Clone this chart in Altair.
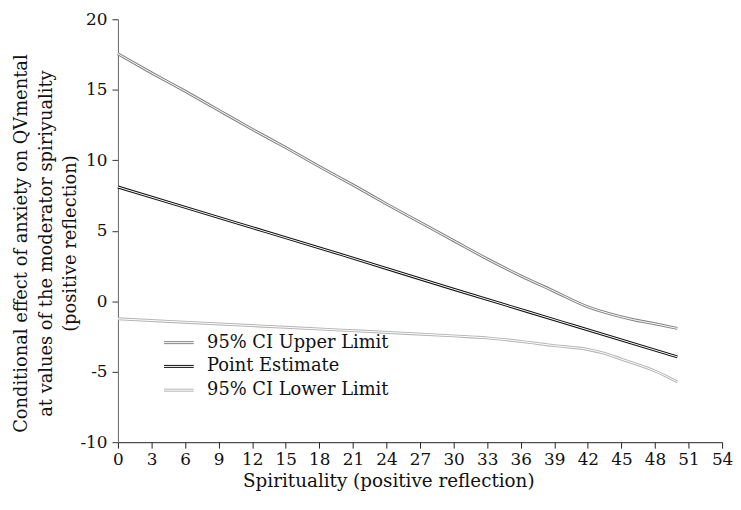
import altair as alt
import pandas as pd

# ---- data ----
series_names = ["95% CI Upper Limit", "Point Estimate", "95% CI Lower Limit"]
series_colors = ["#858585", "#111111", "#b4b4b4"]

x_upper = [0, 3, 6, 9, 12, 15, 18, 21, 24, 27, 30, 33, 36, 39, 42, 44, 46, 48, 50]
y_upper = [17.55, 16.2, 14.9, 13.55, 12.2, 10.9, 9.55, 8.25, 6.9, 5.6, 4.3, 3.0, 1.8,
           0.7, -0.4, -0.9, -1.3, -1.6, -1.93]

x_point = [0, 10, 20, 30, 40, 50]
y_point = [8.1, 5.7, 3.3, 0.85, -1.55, -3.95]

x_lower = [0, 5, 10, 15, 20, 25, 30, 33, 36, 39, 42, 43.5, 45, 48, 50]
y_lower = [-1.25, -1.45, -1.65, -1.85, -2.05, -2.25, -2.46, -2.6, -2.85, -3.15,
           -3.42, -3.7, -4.11, -4.95, -5.72]

x_ticks = list(range(0, 55, 3))
y_ticks = [-10, -5, 0, 5, 10, 15, 20]

x_title = "Spirituality (positive reflection)"
y_title = ["Conditional effect of anxiety on QVmental",
           "at values of the moderator spiriyuality",
           "(positive reflection)"]

rows = []
for name, xs, ys in zip(series_names, [x_upper, x_point, x_lower], [y_upper, y_point, y_lower]):
    for xv, yv in zip(xs, ys):
        rows.append({"series": name, "x": xv, "y": yv})
df = pd.DataFrame(rows)

FONT = "DejaVu Serif"
PLOT_W = 610
PLOT_H = 427

x_enc = alt.X(
    "x:Q",
    scale=alt.Scale(domain=[0, 54], nice=False, zero=False),
    axis=alt.Axis(values=x_ticks, tickCount=len(x_ticks) + 2, title=x_title, grid=False,
                  labelFont=FONT, labelFontSize=17, labelColor="#111", titleFont=FONT,
                  titleFontSize=18.5, titleFontWeight="normal", titleColor="#111",
                  tickSize=6, tickColor="#222", domainColor="#222", labelPadding=4,
                  titlePadding=4, labelOverlap=False, labelFlush=False, titleX=273,
                  labelExpr="'' + datum.value"),
)
y_enc = alt.Y(
    "y:Q",
    scale=alt.Scale(domain=[-10, 20], nice=False, zero=False),
    axis=alt.Axis(values=y_ticks, tickCount=len(y_ticks) + 2, title=y_title, grid=False,
                  labelFont=FONT, labelFontSize=17, labelColor="#111", titleFont=FONT,
                  titleFontSize=18, titleFontWeight="normal", titleColor="#111",
                  titleLineHeight=25, tickSize=6, tickColor="#333", domainColor="#666",
                  labelPadding=5, titlePadding=0, titleY=226, labelFlush=False,
                  labelOverlap=False, labelExpr="'' + datum.value"),
)

outer = alt.Chart(df).mark_line(strokeWidth=3, interpolate="monotone").encode(
    x=x_enc,
    y=y_enc,
    color=alt.Color(
        "series:N",
        scale=alt.Scale(domain=series_names, range=series_colors),
        legend=alt.Legend(
            title=None, orient="none", legendX=51, legendY=316,
            symbolType="M-1.5,-0.1L1.5,-0.1M-1.5,0.1L1.5,0.1", symbolSize=400,
            symbolStrokeWidth=1, labelFont=FONT, labelFontSize=18, labelColor="#111",
            labelOffset=18, rowPadding=4, labelLimit=400,
        ),
    ),
)

inner = alt.Chart(df).mark_line(strokeWidth=1, color="white", interpolate="monotone").encode(
    x=x_enc,
    y=y_enc,
    detail="series:N",
)

chart = (
    alt.layer(outer, inner)
    .properties(
        width=PLOT_W,
        height=PLOT_H,
        autosize=alt.AutoSizeParams(type="none"),
        padding={"left": 111, "top": 9, "right": 11, "bottom": 56},
        background="white",
    )
    .configure_view(stroke=None)
)

chart.save("out.html", embed_options={"renderer": "svg", "actions": False})
